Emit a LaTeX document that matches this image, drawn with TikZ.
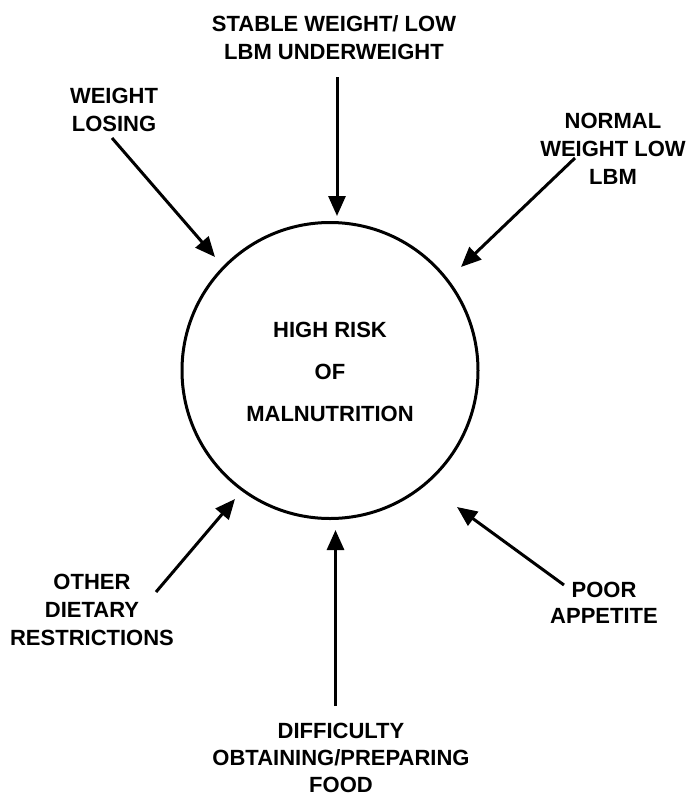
\documentclass[tikz,border=0pt]{standalone}
\usepackage{fontspec}
\setmainfont{Liberation Sans}
\usetikzlibrary{arrows.meta}
\tikzset{
  lbl/.style={align=center, inner sep=0pt, font=\bfseries\fontsize{22}{28}\selectfont},
  arr/.style={line width=3pt, -{Triangle[length=20pt,width=17pt]}},
  ring/.style={circle, draw, line width=3pt, minimum size=296pt, inner sep=0pt}
}
\begin{document}
\begin{tikzpicture}[x=1pt,y=-1pt]
\useasboundingbox (0,0) rectangle (687,798);
\node[ring] (c) at (330,370.5) {};
\node[lbl, font=\bfseries\fontsize{22}{42}\selectfont] (ct) at (330,372) {HIGH RISK\\OF\\MALNUTRITION};
\node[lbl] (top) at (334,38) {STABLE WEIGHT/ LOW\\LBM UNDERWEIGHT};
\node[lbl] (wl) at (114,110) {WEIGHT\\LOSING};
\node[lbl] (nw) at (613,149) {NORMAL\\WEIGHT LOW\\LBM};
\node[lbl] (od) at (92,610) {OTHER\\DIETARY\\RESTRICTIONS};
\node[lbl, font=\bfseries\fontsize{22}{26}\selectfont] (pa) at (604,603) {POOR\\APPETITE};
\node[lbl, font=\bfseries\fontsize{22}{27}\selectfont] (df) at (341,758) {DIFFICULTY\\OBTAINING/PREPARING\\FOOD};
\coordinate (t1) at (337,77);   \coordinate (h1) at (337,216);
\coordinate (t2) at (112,138);  \coordinate (h2) at (215,257);
\coordinate (t3) at (575,158);  \coordinate (h3) at (461,267);
\coordinate (t4) at (156,592);  \coordinate (h4) at (235,499);
\coordinate (t5) at (564,585);  \coordinate (h5) at (457,507);
\coordinate (t6) at (335.5,706);\coordinate (h6) at (335.5,530);
\draw[arr] (t1) -- (h1);
\draw[arr] (t2) -- (h2);
\draw[arr] (t3) -- (h3);
\draw[arr] (t4) -- (h4);
\draw[arr] (t5) -- (h5);
\draw[arr] (t6) -- (h6);
\end{tikzpicture}
\end{document}
